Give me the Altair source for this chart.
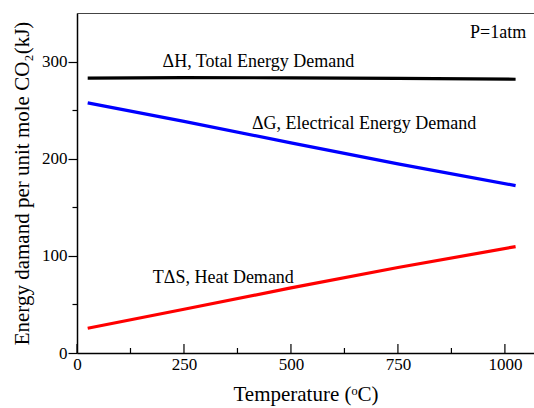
import altair as alt
import pandas as pd

# Data
temps = [25, 250, 500, 750, 1025]
dH = [283.0, 283.5, 283.3, 282.7, 281.8]
TdS = [25.5, 45.0, 67.0, 88.0, 109.5]
dG = [round(h - s, 1) for h, s in zip(dH, TdS)]

series_names = ["dH", "dG", "TdS"]
series_colors = ["#000000", "#0000ff", "#ff0000"]

x_major = [0, 250, 500, 750, 1000]
x_minor = [125, 375, 625, 875]

label_texts = ["ΔH, Total Energy Demand", "ΔG, Electrical Energy Demand", "TΔS, Heat Demand", "P=1atm"]
label_x = [424, 671, 342, 984]
label_y = [299.7, 235.8, 76.7, 329.6]

W, H = 457, 340
FONT = "Liberation Serif"

rows = []
for name, vals in zip(series_names, [dH, dG, TdS]):
    for t, v in zip(temps, vals):
        rows.append({"T": t, "E": v, "s": name})
df = pd.DataFrame(rows)

xscale = alt.Scale(domain=[0, 1068], nice=False, zero=False)
yscale = alt.Scale(domain=[0, 350], nice=False)

lines = alt.Chart(df).mark_line(strokeWidth=3.2, clip=True).encode(
    x=alt.X("T:Q", scale=xscale,
            axis=alt.Axis(values=x_major, format="d", title="Temperature (ᵒC)", tickSize=0,
                          labelPadding=3, labelFlush=False, titlePadding=11,
                          domainColor="#000", domainWidth=1.5, grid=False)),
    y=alt.Y("E:Q", scale=yscale,
            axis=alt.Axis(values=[0, 50, 100, 150, 200, 250, 300], format="d",
                          labelExpr="datum.value % 100 === 0 ? datum.label : ''",
                          tickSize={"condition": {"test": "datum.value % 100 === 0", "value": 9}, "value": 5},
                          tickColor="#000", tickWidth=1.2,
                          title="Energy damand per unit mole CO₂(kJ)",
                          labelPadding=1, titlePadding=9,
                          domainColor="#000", domainWidth=1.5, grid=False)),
    color=alt.Color("s:N", scale=alt.Scale(domain=series_names, range=series_colors), legend=None),
)

ticks_major = alt.Chart(pd.DataFrame({"t": x_major})).mark_rule(color="#000", strokeWidth=1.2).encode(
    x=alt.X("t:Q", scale=xscale),
    y=alt.value(H), y2=alt.value(H - 9),
)
ticks_minor = alt.Chart(pd.DataFrame({"t": x_minor})).mark_rule(color="#000", strokeWidth=1.2).encode(
    x=alt.X("t:Q", scale=xscale),
    y=alt.value(H), y2=alt.value(H - 5),
)

top_border = alt.Chart(pd.DataFrame({"a": [0]})).mark_rule(color="#444", strokeWidth=1.2).encode(
    x=alt.value(0), x2=alt.value(W), y=alt.value(0.5),
)

labels = alt.Chart(pd.DataFrame({"text": label_texts, "x": label_x, "y": label_y})).mark_text(
    font=FONT, fontSize=18, color="#000", align="center", baseline="middle"
).encode(
    x=alt.X("x:Q", scale=xscale),
    y=alt.Y("y:Q", scale=yscale),
    text="text:N",
)

chart = alt.layer(lines, ticks_major, ticks_minor, top_border, labels).properties(
    width=W, height=H,
    autosize=alt.AutoSizeParams(type="none"),
    padding={"left": 77, "top": 13, "right": 0, "bottom": 55},
).configure_view(stroke=None).configure(background="white", font=FONT).configure_axis(
    labelFont=FONT, labelFontSize=17, labelColor="#000",
    titleFont=FONT, titleFontSize=21, titleFontWeight="normal", titleColor="#000",
)

chart.save("out.html", embed_options={"renderer": "svg", "actions": False})
